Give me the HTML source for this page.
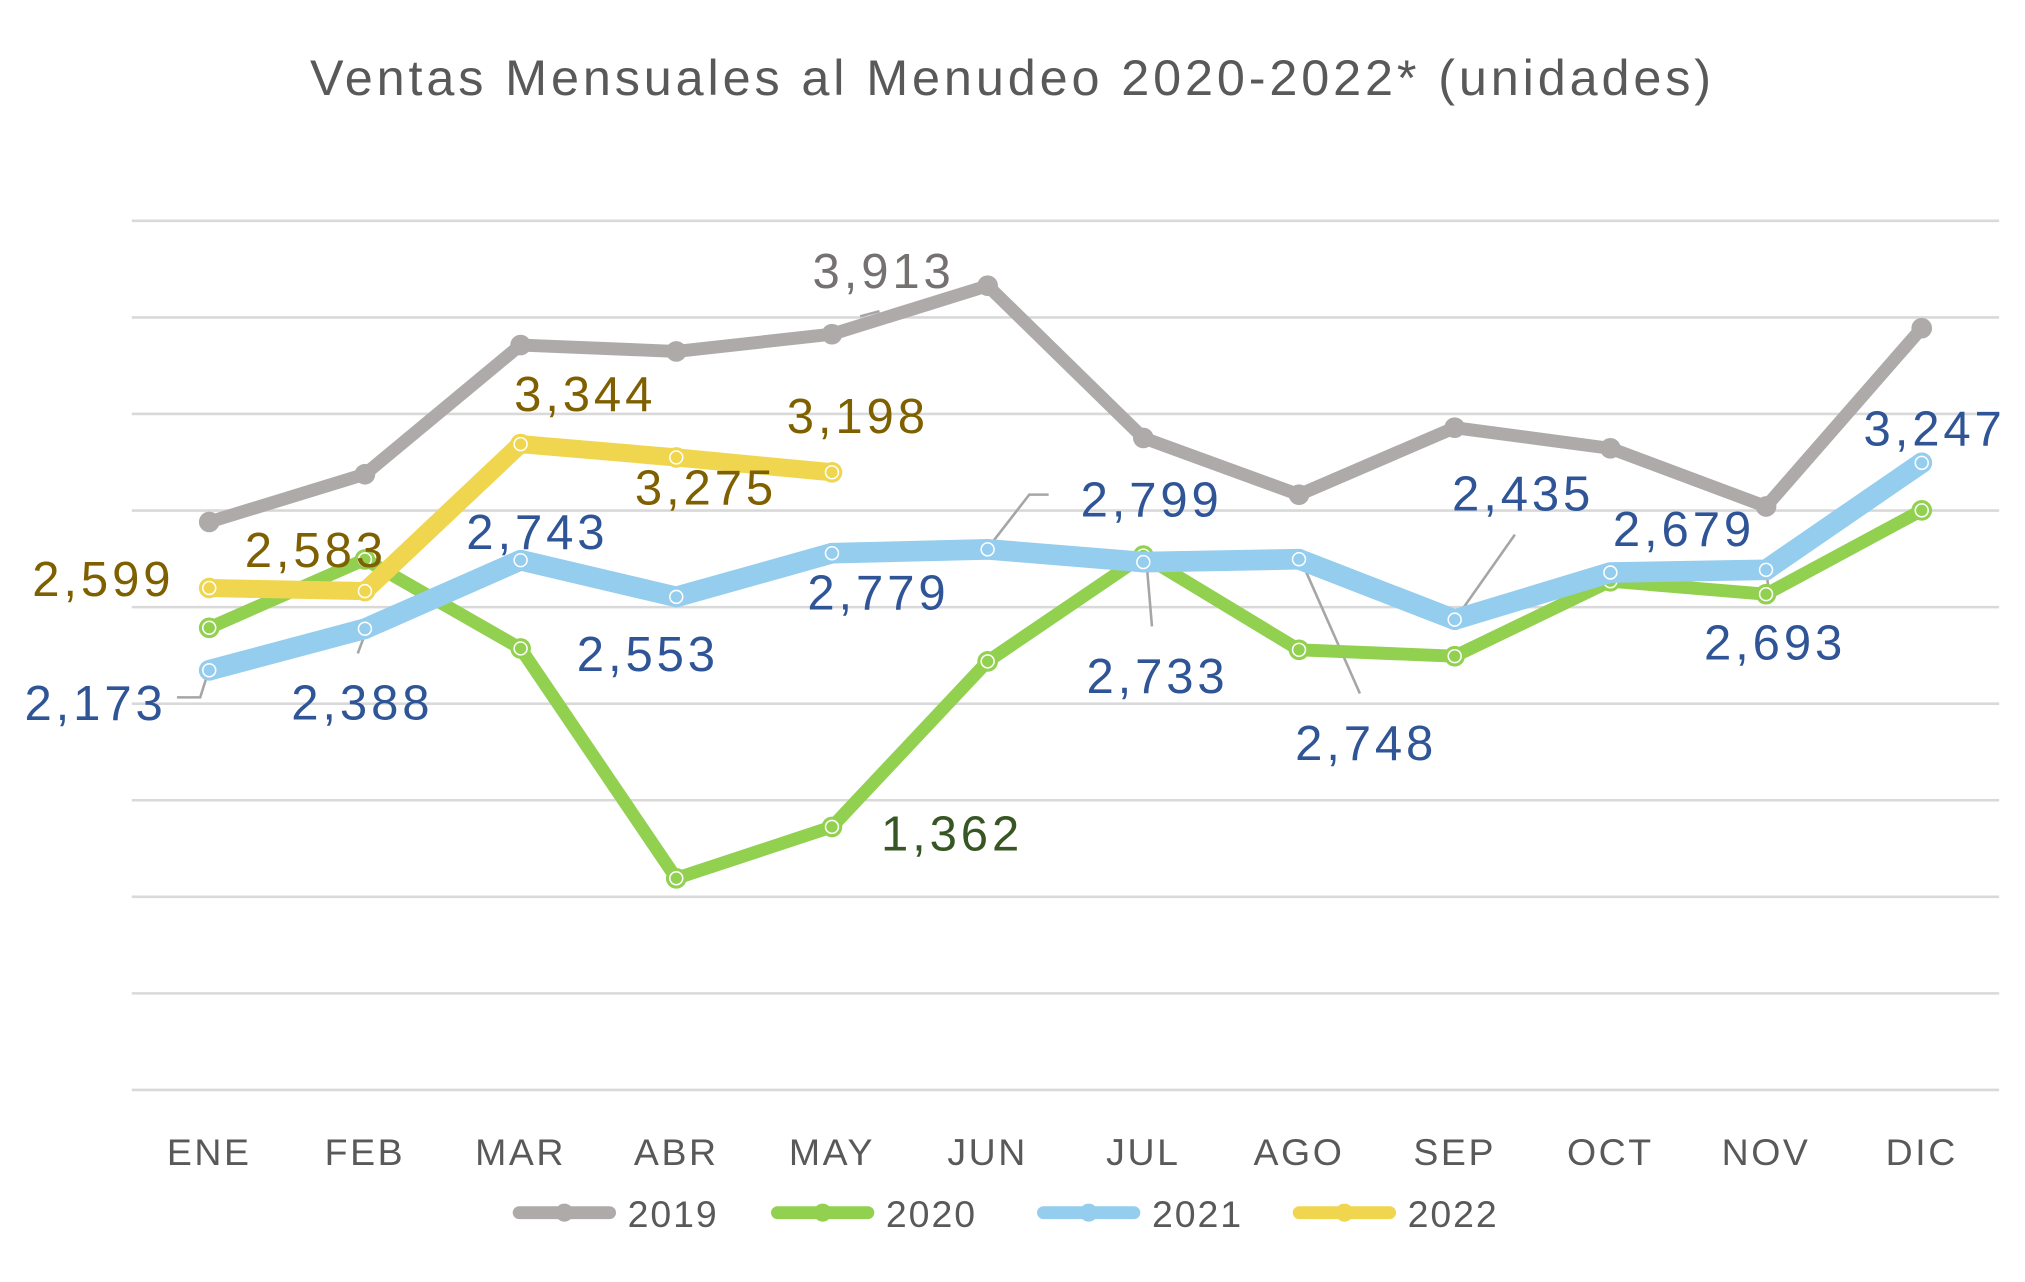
<!DOCTYPE html>
<html><head><meta charset="utf-8"><style>
html,body{margin:0;padding:0;background:#fff;}
svg{display:block;font-family:"Liberation Sans",sans-serif;}
</style></head><body>
<svg id="chart" width="2025" height="1282" viewBox="0 0 1568 992.7" xmlns="http://www.w3.org/2000/svg">
<rect width="1568" height="992.7" fill="#fff"/>
<text x="784" y="60" text-anchor="middle" dominant-baseline="central" font-size="39" fill="#595959" letter-spacing="3">Ventas Mensuales al Menudeo 2020-2022* (unidades)</text>
<g id="grid"></g><g id="leaders"></g><g id="series"></g><g id="labels"></g><g id="xaxis"></g><g id="legend"></g>
</svg>
<script>
const months=["ENE","FEB","MAR","ABR","MAY","JUN","JUL","AGO","SEP","OCT","NOV","DIC"];
const years=["2019","2020","2021","2022"];
const s2019=[2941,3188,3857,3824,3913,4164,3376,3082,3429,3322,3021,3944];
const s2020=[2393,2747,2286,1096,1362,2219,2767,2279,2246,2634,2567,3001];
const s2021=[2173,2388,2743,2553,2779,2799,2733,2748,2435,2679,2693,3247];
const s2022=[2599,2583,3344,3275,3198];
const yTicks=[0,500,1000,1500,2000,2500,3000,3500,4000,4500];

const NS="http://www.w3.org/2000/svg";
const x=i=>162+i*120.55;
const y=v=>844-v*(673/4500);
function el(t,a,p){const e=document.createElementNS(NS,t);for(const k in a)e.setAttribute(k,a[k]);p.appendChild(e);return e;}
const G=id=>document.getElementById(id);

yTicks.forEach(v=>{const l=el("line",{x1:102,x2:1548,y1:y(v),y2:y(v),stroke:"#d9d9d9","stroke-width":2},G("grid"));

});

months.forEach((m,i)=>{const t=el("text",{x:x(i),y:892,"text-anchor":"middle","dominant-baseline":"central","font-size":29,fill:"#595959","letter-spacing":2},G("xaxis"));t.textContent=m;

});

const series=[
 {name:"2019",data:s2019,color:"#aeaaaa",w:10,hollow:false},
 {name:"2020",data:s2020,color:"#92d050",w:10,hollow:true},
 {name:"2021",data:s2021,color:"#94cdee",w:16,hollow:true},
 {name:"2022",data:s2022,color:"#f0d64e",w:14,hollow:true}];
series.forEach(s=>{
 const g=el("g",{},G("series"));
 
 
 const pts=s.data.map((v,i)=>x(i)+","+y(v)).join(" ");
 const pl=el("polyline",{points:pts,fill:"none",stroke:s.color,"stroke-width":s.w,"stroke-linejoin":"round","stroke-linecap":"round"},g);
 
 
 s.data.forEach((v,i)=>{
  const c=el("circle",{cx:x(i),cy:y(v),r:8,fill:s.color},g);
  
  
  if(s.hollow){const c2=el("circle",{cx:x(i),cy:y(v),r:5,fill:"none",stroke:"#fff","stroke-width":1.2},g);
  
  }
 });
});

const blue="#2f5597",gold="#7f6000";
const labelSpecs=[
 [s2021,0,-88,26,blue],[s2021,1,-2,58,blue],[s2021,2,13,-21,blue],[s2021,3,-22,45,blue],[s2021,4,36,31,blue],
 [s2021,5,127,-38,blue],[s2021,6,11,89,blue],[s2021,7,52,143,blue],[s2021,8,53,-97,blue],[s2021,9,57,-33,blue],
 [s2021,10,7,57,blue],[s2021,11,10,-26,blue],
 [s2022,0,-82,-6,gold],[s2022,1,-38,-31,gold],[s2022,2,50,-38,gold],[s2022,3,23,24,gold],[s2022,4,20,-43,gold],
 [s2020,4,93,6,"#375623"],[s2019,4,40,-48,"#767171"]];
labelSpecs.forEach(([d,i,dx,dy,c])=>{
 const t=el("text",{x:x(i)+dx,y:y(d[i])+dy,"text-anchor":"middle","dominant-baseline":"central","font-size":38,fill:c,"letter-spacing":3},G("labels"));
 t.textContent=d[i].toLocaleString("en-US");
 
 
});
[["M137,540 L155,540 L161,521"],["M277,506 L283,490"],["M812,383 L797,383 L766,423"],["M888,438 L892,485"],
 ["M1007,433 L1053,537"],["M1173,414 L1128,478"],["M1368,445 L1370,460"],["M666,245 L681,241"]].forEach(p=>{
 const l=el("path",{d:p[0],fill:"none",stroke:"#a6a6a6","stroke-width":2},G("leaders"));
 
 
});

const lx=[402,602,808,1006];
series.forEach((s,i)=>{
 const g=el("g",{},G("legend"));
 
 
 el("line",{x1:lx[i],x2:lx[i]+70,y1:939,y2:939,stroke:s.color,"stroke-width":10,"stroke-linecap":"round"},g);
 el("circle",{cx:lx[i]+35,cy:939,r:7,fill:s.color},g);
 const t=el("text",{x:lx[i]+84,y:940,"dominant-baseline":"central","font-size":29,fill:"#595959","letter-spacing":1.5},g);
 t.textContent=s.name;
});
</script>
</body></html>
